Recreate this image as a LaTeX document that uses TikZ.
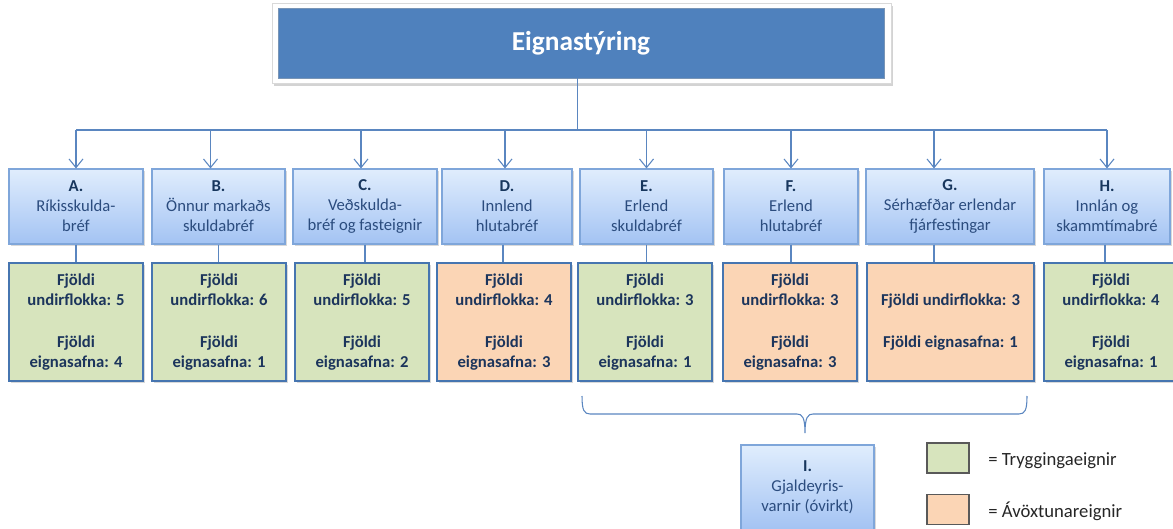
\documentclass[tikz,border=0pt]{standalone}
\usepackage{fontspec}
\setmainfont{Carlito}
\usetikzlibrary{arrows.meta,shadows,calc}
\definecolor{topblue}{HTML}{4F81BD}
\definecolor{lnblue}{HTML}{5A86C0}
\definecolor{l1top}{HTML}{E0EDFD}
\definecolor{l1bot}{HTML}{A3C3F3}
\definecolor{l1border}{HTML}{7FA6DA}
\definecolor{l2border}{HTML}{4675B0}
\definecolor{greenfill}{HTML}{D7E4BD}
\definecolor{orangefill}{HTML}{FBD5B5}
\definecolor{navy}{HTML}{17365D}
\definecolor{bodyblue}{HTML}{2B4C7E}
\definecolor{l2text}{HTML}{1C355C}
\tikzset{
  conn/.style={draw=lnblue, line width=0.8pt},
  arr/.style={conn, -{Straight Barb[length=6.5pt,width=10.5pt,line width=0.8pt]}},
  lonebox/.style={draw=l1border, line width=0.8pt, top color=l1top, bottom color=l1bot,
    minimum height=56.25pt, inner sep=0pt, align=center, text=bodyblue,
    font={\fontsize{12.5}{15}\selectfont},
    drop shadow={shadow xshift=1.5pt, shadow yshift=-1.5pt, opacity=0.3}},
  ltwobox/.style={draw=l2border, line width=1.5pt, minimum height=88.5pt,
    minimum width=100.5pt, inner sep=0pt, align=center, text=l2text,
    font={\fontsize{12.5}{15.5}\selectfont\bfseries},
    drop shadow={shadow xshift=1.8pt, shadow yshift=-1.8pt, opacity=0.3}},
  grn/.style={ltwobox, fill=greenfill},
  org/.style={ltwobox, fill=orangefill},
  legsq/.style={draw=black!65, line width=1pt, minimum width=31.5pt, minimum height=22.5pt, inner sep=0pt},
  legtxt/.style={anchor=west, inner sep=0pt, text=black!85, font={\fontsize{14}{16}\selectfont}},
}
\newcommand{\lab}[1]{\textbf{\color{navy}#1}}
\begin{document}
\begin{tikzpicture}[x=0.75pt,y=-0.75pt]
\useasboundingbox (0,0) rectangle (1173,528);
% top box
\node[draw=black!15, fill=white, minimum width=464.25pt, minimum height=60pt,
  drop shadow={shadow xshift=1.5pt, shadow yshift=-2pt, opacity=0.35}] (frame) at (581.5,43) {};
\node[fill=topblue, draw=topblue!80!black!70, minimum width=454.5pt, minimum height=52.5pt,
  text=white, font={\fontsize{20.5}{24}\selectfont\bfseries}] (top) at (581,43) {Eignastýring};
% level 1
\node[lonebox, minimum width=100.5pt] (A1) at (76,206.5) {\lab{A.}\\Ríkisskulda-\\bréf};
\node[lonebox, minimum width=99.75pt] (B1) at (218.5,206.5) {\lab{B.}\\Önnur markaðs\\skuldabréf};
\node[lonebox, minimum width=108pt] (C1) at (365,206.5) {\lab{C.}\\Veðskulda-\\bréf og fasteignir};
\node[lonebox, minimum width=97.5pt] (D1) at (507,206.5) {\lab{D.}\\Innlend\\hlutabréf};
\node[lonebox, minimum width=99.75pt] (E1) at (646.5,206.5) {\lab{E.}\\Erlend\\skuldabréf};
\node[lonebox, minimum width=100.5pt] (F1) at (791,206.5) {\lab{F.}\\Erlend\\hlutabréf};
\node[lonebox, minimum width=126pt] (G1) at (950,206.5) {\lab{G.}\\Sérhæfðar erlendar\\fjárfestingar};
\node[lonebox, minimum width=94.5pt] (H1) at (1107,206.5) {\lab{H.}\\Innlán og\\skammtímabré};
% level 2
\node[grn] (A2) at (76,322) {Fjöldi\\undirflokka: 5\\[15.5pt]Fjöldi\\eignasafna: 4};
\node[grn] (B2) at (219,322) {Fjöldi\\undirflokka: 6\\[15.5pt]Fjöldi\\eignasafna: 1};
\node[grn] (C2) at (362,322) {Fjöldi\\undirflokka: 5\\[15.5pt]Fjöldi\\eignasafna: 2};
\node[org] (D2) at (504,322) {Fjöldi\\undirflokka: 4\\[15.5pt]Fjöldi\\eignasafna: 3};
\node[grn] (E2) at (645,322) {Fjöldi\\undirflokka: 3\\[15.5pt]Fjöldi\\eignasafna: 1};
\node[org] (F2) at (790,322) {Fjöldi\\undirflokka: 3\\[15.5pt]Fjöldi\\eignasafna: 3};
\node[org, minimum width=125.25pt] (G2) at (950.5,322) {Fjöldi undirflokka: 3\\[15.5pt]Fjöldi eignasafna: 1};
\node[grn] (H2) at (1111,322) {Fjöldi\\undirflokka: 4\\[15.5pt]Fjöldi\\eignasafna: 1};
% I box
\node[lonebox, minimum width=99.75pt, minimum height=63.75pt] (I) at (807.5,487.5) {\lab{I.}\\Gjaldeyris-\\varnir (óvirkt)};
% legend
\node[legsq, fill=greenfill] (lg) at (948,458) {};
\node[legsq, fill=orangefill] (lo) at (948,509.5) {};
\node[legtxt] (lgt) at (988,461) {= Tryggingaeignir};
\node[legtxt] (lot) at (988,511) {= Ávöxtunareignir};
% bus
\coordinate (bus) at (0,130);
\coordinate (bB) at ([xshift=-6pt]B1.north);
\coordinate (bC) at ([xshift=-3pt]C1.north);
\coordinate (bD) at ([xshift=-1.5pt]D1.north);
\coordinate (bG) at ([xshift=-12pt]G1.north);
\draw[conn] ([xshift=-2.5pt]top.south) -- ([xshift=-2.5pt]top.south |- bus);
\draw[conn] (A1.north |- bus) -- (H1.north |- bus);
\draw[arr] (A1.north |- bus) -- (A1.north);
\draw[arr] (bB |- bus) -- (bB);
\draw[arr] (bC |- bus) -- (bC);
\draw[arr] (bD |- bus) -- (bD);
\draw[arr] (E1.north |- bus) -- (E1.north);
\draw[arr] (F1.north |- bus) -- (F1.north);
\draw[arr] (bG |- bus) -- (bG);
\draw[arr] (H1.north |- bus) -- (H1.north);
% level1 -> level2
\draw[conn] (A1.south) -- (A1.south |- A2.north);
\draw[conn] (B1.south) -- (B1.south |- B2.north);
\draw[conn] (C1.south) -- (C1.south |- C2.north);
\draw[conn] ([xshift=-3pt]D1.south) -- ([xshift=-3pt]D1.south |- D2.north);
\draw[conn] (E1.south) -- (E1.south |- E2.north);
\draw[conn] (F1.south) -- (F1.south |- F2.north);
\draw[conn] ([xshift=-12pt]G1.south) -- ([xshift=-12pt]G1.south |- G2.north);
\draw[conn] ([xshift=-1.5pt]H1.south) -- ([xshift=-1.5pt]H1.south |- H2.north);
% brace
\draw[conn] (582,396) .. controls (582,410) and (584,414) .. (590,414) -- (797,414)
  .. controls (802,414) and (805,417) .. (805,433)
  .. controls (805,417) and (808,414) .. (813,414) -- (1019,414)
  .. controls (1025,414) and (1027,410) .. (1027,396);
\end{tikzpicture}
\end{document}
